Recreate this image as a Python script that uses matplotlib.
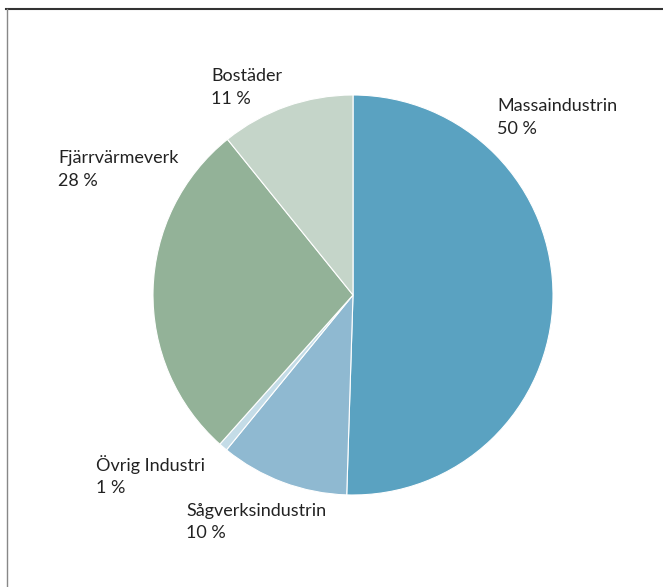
import matplotlib.pyplot as plt
from matplotlib.lines import Line2D

labels = ["Massaindustrin", "Sågverksindustrin", "Övrig Industri", "Fjärrvärmeverk", "Bostäder"]
shares = [50.5, 10.4, 0.7, 27.6, 10.8]
pct_text = ["50 %", "10 %", "1 %", "28 %", "11 %"]
colors = ["#5aa2c1", "#8fb9d1", "#c4dce7", "#93b298", "#c5d5c9"]

# label anchor positions in pixels (left, top)
label_pos = [(497, 98), (186, 503), (96, 455), (58, 150), (211, 68)]

W, H = 663, 587
fig = plt.figure(figsize=(W / 100, H / 100), dpi=100)
plt.rcParams['font.family'] = ['Lato', 'DejaVu Sans']

cx, cy, r = 353, 295, 200
ax = fig.add_axes([(cx - r) / W, (H - cy - r) / H, 2 * r / W, 2 * r / H])
ax.pie(shares, colors=colors, startangle=90, counterclock=False,
       wedgeprops=dict(edgecolor="white", linewidth=0.8))
ax.set_xlim(-1, 1)
ax.set_ylim(-1, 1)
ax.set_aspect("auto")
ax.axis("off")

for name, pct, (px, py) in zip(labels, pct_text, label_pos):
    fig.text(px / W, 1 - py / H, name + "\n" + pct, ha="left", va="top",
             fontsize=13, color="#222222", linespacing=1.5)

# frame lines: top and left only
fig.add_artist(Line2D([6 / W, 1], [1 - 8.5 / H, 1 - 8.5 / H], transform=fig.transFigure,
                      color="#333333", linewidth=1.5))
fig.add_artist(Line2D([6.5 / W, 6.5 / W], [0, 1 - 8.5 / H], transform=fig.transFigure,
                      color="#888888", linewidth=1.0))

fig.savefig("out.png", dpi=100)
